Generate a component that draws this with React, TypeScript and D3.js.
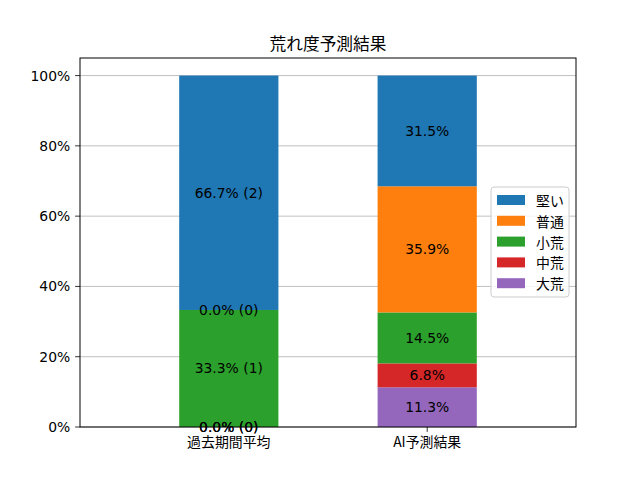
import React from "react";
import * as d3 from "d3";

const categories = ["過去期間平均", "AI予測結果"];
const seriesNames = ["大荒", "中荒", "小荒", "普通", "堅い"]; // bottom to top
const seriesColors = ["#9467bd", "#d62728", "#2ca02c", "#ff7f0e", "#1f77b4"];
const pastPct = [0.0, 0.0, 33.3, 0.0, 66.7];
const pastCounts = [0, 0, 1, 0, 2];
const aiPct = [11.3, 6.8, 14.5, 35.9, 31.5];
const yTicks = [0, 20, 40, 60, 80, 100];
const title = "荒れ度予測結果";

const W = 640, H = 480;
const L = 80, R = 576, T = 58, B = 427;
const NUM_FONT = "'DejaVu Sans', 'Noto Sans CJK JP', sans-serif";
const JP_FONT = "'Noto Sans CJK JP', 'DejaVu Sans', sans-serif";

export default function App() {
  const x = d3.scaleLinear().domain([-0.75, 1.75]).range([L, R]);
  const y = d3.scaleLinear().domain([0, 105]).range([B, T]);
  const barW = 0.5;

  const rows = categories.map((c, i) => {
    const row: any = { cat: c, idx: i };
    seriesNames.forEach((s, j) => {
      row[s] = i === 0 ? pastPct[j] : aiPct[j];
    });
    return row;
  });
  const stacked = d3.stack().keys(seriesNames)(rows as any);

  const labelFor = (catIdx: number, sIdx: number) => {
    if (catIdx === 0) return `${pastPct[sIdx].toFixed(1)}% (${pastCounts[sIdx]})`;
    return `${aiPct[sIdx].toFixed(1)}%`;
  };

  const legendOrder = [...seriesNames.keys()].reverse();
  const lgX = 491, lgY = 187, lgW = 78, lgH = 110;

  return (
    <svg width={W} height={H} style={{ position: "fixed", left: 0, top: 0, background: "#fff" }}>
      <rect x={0} y={0} width={W} height={H} fill="#fff" />
      {/* grid */}
      {yTicks.map((t) => (
        <line key={"g" + t} x1={L} x2={R} y1={y(t)} y2={y(t)} stroke="#b0b0b0" strokeWidth={0.8} />
      ))}
      {/* bars */}
      {stacked.map((layer, j) =>
        layer.map((d, i) => (
          <rect
            key={`b${j}-${i}`}
            x={x(i - barW / 2)}
            width={x(barW) - x(0)}
            y={y(d[1])}
            height={Math.max(0, y(d[0]) - y(d[1]))}
            fill={seriesColors[j]}
          />
        ))
      )}
      {/* labels */}
      {stacked.map((layer, j) =>
        layer.map((d, i) => (
          <text
            key={`l${j}-${i}`}
            x={x(i)}
            y={y((d[0] + d[1]) / 2)}
            textAnchor="middle"
            dominantBaseline="central"
            fontFamily={NUM_FONT}
            fontSize={13.9}
            fill="#000"
          >
            {labelFor(i, j)}
          </text>
        ))
      )}
      {/* axes frame */}
      <rect x={L} y={T} width={R - L} height={B - T} fill="none" stroke="#000" strokeWidth={1} />
      {/* y ticks */}
      {yTicks.map((t) => (
        <g key={"yt" + t}>
          <line x1={L - 4.9} x2={L} y1={y(t)} y2={y(t)} stroke="#000" strokeWidth={0.8} />
          <text x={L - 9.8} y={y(t)} textAnchor="end" dominantBaseline="central" fontFamily={NUM_FONT} fontSize={13.9} fill="#000">
            {`${t}%`}
          </text>
        </g>
      ))}
      {/* x ticks */}
      {categories.map((c, i) => (
        <g key={"xt" + i}>
          <line x1={x(i)} x2={x(i)} y1={B} y2={B + 4.9} stroke="#000" strokeWidth={0.8} />
          <text x={x(i)} y={B + 7.5} textAnchor="middle" dominantBaseline="hanging" fontFamily={JP_FONT} fontSize={13.9} fill="#000">
            {c}
          </text>
        </g>
      ))}
      {/* title */}
      <text x={(L + R) / 2} y={50} textAnchor="middle" fontFamily={JP_FONT} fontSize={16.7} fill="#000">
        {title}
      </text>
      {/* legend */}
      <rect x={lgX} y={lgY} width={lgW} height={lgH} rx={3} fill="#fff" fillOpacity={0.8} stroke="#cccccc" strokeWidth={1} />
      {legendOrder.map((j, k) => {
        const cy = 200 + k * 20.8;
        return (
          <g key={"lg" + j}>
            <rect x={497} y={cy - 5} width={28} height={10} fill={seriesColors[j]} />
            <text x={536} y={cy} dominantBaseline="central" fontFamily={JP_FONT} fontSize={13.9} fill="#000">
              {seriesNames[j]}
            </text>
          </g>
        );
      })}
    </svg>
  );
}
